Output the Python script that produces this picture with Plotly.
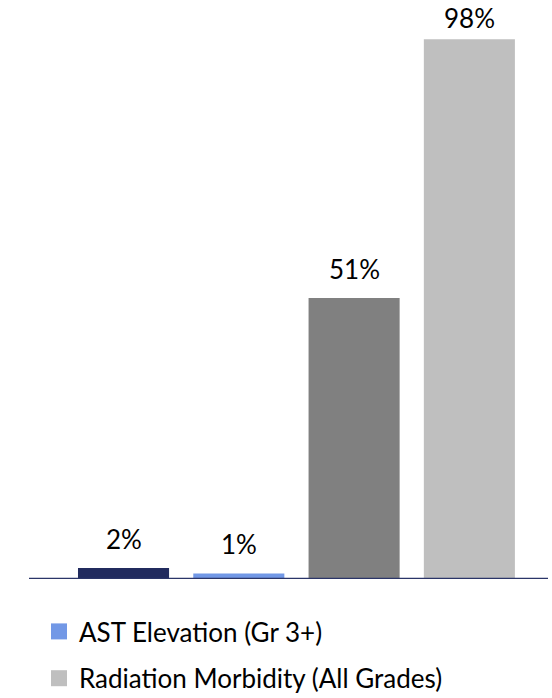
import plotly.graph_objects as go

categories = ["Series 1", "AST Elevation (Gr 3+)", "Series 3", "Radiation Morbidity (All Grades)"]
values = [2, 1, 51, 98]
in_legend = [False, True, False, True]
colors = ["#212B5E", "#7298E6", "#808080", "#BFBFBF"]
label_shift = [11, 11, 11, 3]

FONT = "Lato"
fig = go.Figure()
for i, (cat, v) in enumerate(zip(categories, values)):
    fig.add_trace(go.Bar(
        x=[cat], y=[v], name=cat, width=0.79,
        marker=dict(color=colors[i], line=dict(width=0)),
        showlegend=False,
    ))
    fig.add_annotation(x=cat, y=v, text=f"{v}%", showarrow=False,
                       yanchor="bottom", yshift=label_shift[i],
                       font=dict(family=FONT, size=26, color="#000000"))

# legend entries (square swatches) for the series shown in the legend
for i, cat in enumerate(categories):
    if in_legend[i]:
        fig.add_trace(go.Scatter(
            x=[None], y=[None], mode="markers", name=cat,
            marker=dict(symbol="square", size=16, color=colors[i]),
            legendgroup=f"g{i}", showlegend=True,
        ))

fig.update_layout(
    width=552, height=698,
    margin=dict(l=29, r=4, t=10, b=119, autoexpand=False),
    paper_bgcolor="white", plot_bgcolor="white",
    barmode="overlay",
    font=dict(family=FONT, size=25, color="#000000"),
    xaxis=dict(type="category", categoryorder="array", categoryarray=categories,
               range=[-0.82, 3.682], showticklabels=False, ticks="",
               showgrid=False, zeroline=False, showline=False),
    yaxis=dict(range=[0, 103.3], visible=False, showgrid=False, zeroline=False),
    legend=dict(orientation="v", xref="container", yref="container",
                x=39/552, xanchor="left", y=1-608/698, yanchor="top",
                traceorder="grouped", tracegroupgap=10, itemsizing="trace",
                font=dict(family=FONT, size=26, color="#000000"),
                bgcolor="rgba(0,0,0,0)"),
    shapes=[dict(type="line", xref="paper", yref="y", x0=0, x1=1, y0=0, y1=0,
                 line=dict(color="#2B3568", width=2.3))],
)
fig.write_html("out.html")
